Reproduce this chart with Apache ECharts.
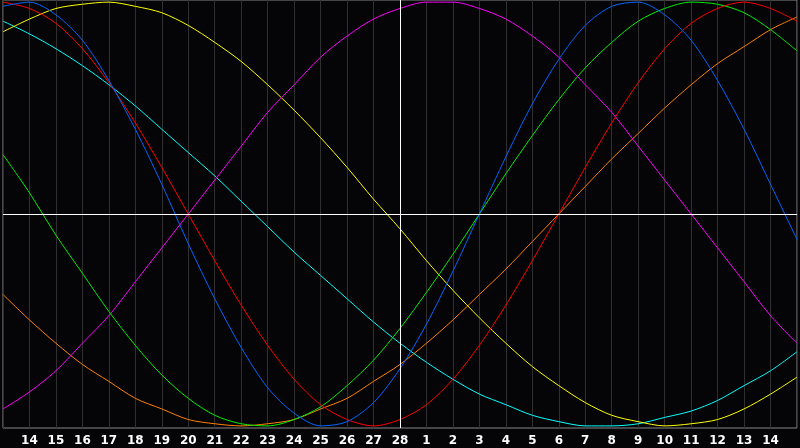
<!DOCTYPE html>
<html>
<head>
    <meta charset="UTF-8">
    <title>Cycles</title>
    <style>
        html, body { margin: 0; padding: 0; background: #050508; }
    </style>
</head>
<body>
    <div id="main" style="width: 800px;height:448px;"></div>
    <script src="https://cdn.jsdelivr.net/npm/echarts@6/dist/echarts.min.js"></script>
    <script type="text/javascript">
        // day labels, blank at both edges
        var days = ['', '14', '15', '16', '17', '18', '19', '20', '21', '22', '23', '24', '25', '26', '27', '28',
            '1', '2', '3', '4', '5', '6', '7', '8', '9', '10', '11', '12', '13', '14', ''];

        // values, -100..100
        var red = [100, 97, 90, 78, 62, 43, 22, 0, -22, -43, -62, -78, -90, -97, -100, -97,
            -90, -78, -62, -43, -22, 0, 22, 43, 62, 78, 90, 97, 100, 97, 91];
        var blue = [98, 100, 94, 82, 63, 40, 14, -14, -40, -63, -82, -94, -100, -98, -89, -73,
            -52, -27, 0, 27, 52, 73, 89, 98, 100, 94, 82, 63, 40, 14, -12];
        var green = [28, 10, -10, -28, -46, -62, -76, -87, -95, -99, -100, -97, -91, -81, -69, -54,
            -37, -19, 0, 19, 37, 54, 69, 81, 91, 97, 100, 99, 95, 87, 77];
        var magenta = [-92, -84, -74, -61, -48, -32, -16, 0, 16, 32, 48, 61, 74, 84, 92, 97,
            100, 100, 97, 92, 84, 74, 61, 48, 32, 16, 0, -16, -32, -48, -61];
        var yellow = [86, 92, 97, 99, 100, 98, 95, 89, 81, 72, 61, 49, 36, 22, 7, -7,
            -22, -36, -49, -61, -72, -81, -89, -95, -98, -100, -99, -97, -92, -85, -77];
        var cyan = [91, 85, 78, 70, 61, 51, 40, 29, 18, 6, -6, -18, -29, -40, -51, -61,
            -70, -78, -85, -90, -95, -98, -100, -100, -99, -96, -93, -88, -81, -74, -65];
        var orange = [-38, -50, -61, -71, -79, -87, -92, -97, -99, -100, -99, -97, -92, -87, -79, -71,
            -61, -50, -38, -26, -13, 0, 13, 26, 38, 50, 61, 71, 79, 87, 93];

        var myChart = echarts.init(document.getElementById('main'));

        function line(data, color) {
            return {
                type: 'line',
                data: data,
                smooth: 0.3,
                showSymbol: false,
                silent: true,
                lineStyle: { color: color, width: 1 }
            };
        }

        var series = [
            line(orange, '#ff8000'),
            line(cyan, '#00ffff'),
            line(yellow, '#ffff00'),
            line(magenta, '#ff00ff'),
            line(green, '#00ee00'),
            line(red, '#ff0000'),
            line(blue, '#0066ff')
        ];
        // white cross through the middle
        series[0].markLine = {
            silent: true,
            symbol: 'none',
            label: { show: false },
            lineStyle: { color: '#ffffff', type: 'solid', width: 1 },
            data: [{ xAxis: 15 }, { yAxis: 0 }]
        };

        var option = {
            animation: false,
            backgroundColor: '#050508',
            grid: {
                left: 0, right: 1, top: 0, bottom: 20,
                show: true,
                borderColor: '#888888',
                borderWidth: 1,
                backgroundColor: '#050508'
            },
            xAxis: {
                type: 'category',
                data: days,
                boundaryGap: false,
                axisLine: { show: false },
                axisTick: { show: false },
                axisLabel: {
                    interval: 0,
                    color: '#ffffff',
                    fontFamily: 'DejaVu Sans',
                    fontWeight: 'bold',
                    fontSize: 12,
                    margin: 7
                },
                splitLine: { show: true, interval: 0, lineStyle: { color: '#303030', width: 1 } }
            },
            yAxis: {
                type: 'value',
                min: -101,
                max: 101,
                axisLine: { show: false },
                axisTick: { show: false },
                axisLabel: { show: false },
                splitLine: { show: false }
            },
            series: series
        };

        myChart.setOption(option);
    </script>
</body>
</html>
